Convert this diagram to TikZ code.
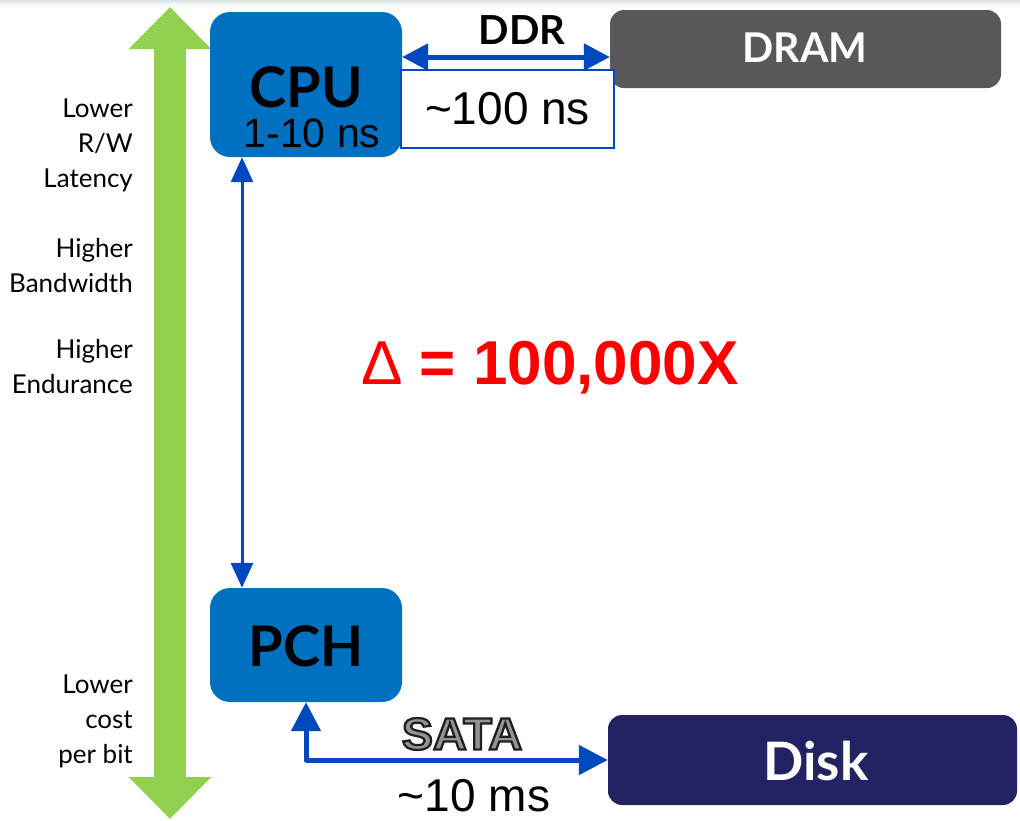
\documentclass[tikz,border=0pt]{standalone}
\usepackage{fontspec}
\setmainfont{Liberation Sans}
\newfontfamily\gill{Lato}
\usetikzlibrary{arrows.meta}

\definecolor{cpublue}{RGB}{0,112,192}
\definecolor{linkblue}{RGB}{0,72,190}
\definecolor{scalegreen}{RGB}{146,208,80}
\definecolor{dramgray}{RGB}{89,89,91}
\definecolor{disknavy}{RGB}{35,35,100}

% outlined letters: fill, then stroke in dark gray
\newcommand\outlined[1]{\special{pdf:literal direct 0.12 G 2.2 w 2 Tr}#1\special{pdf:literal direct 0 Tr}}

\begin{document}
\begin{tikzpicture}[x=1pt,y=-1pt,
	chip/.style={fill=cpublue,rounded corners=20pt,minimum width=192pt,inner sep=0pt},
	mem/.style={rounded corners=14pt,inner sep=0pt},
	hd/.style={font=\gill\bfseries\fontsize{56}{60}\selectfont},
	memlbl/.style={font=\gill\bfseries\fontsize{#1}{#1}\selectfont,text=white},
	side/.style={anchor=east,align=right,inner sep=0pt,font=\gill\fontsize{26}{35}\selectfont},
	big/.style={font=\fontsize{46}{48}\selectfont},
	link/.style={draw=linkblue,line width=5pt,line join=round},
	both/.style={arrows={Triangle[length=#1,width=#1]-Triangle[length=#1,width=#1]}},
	sata/.style={font=\bfseries\fontsize{45}{46}\selectfont,xscale=1.04}]
	\useasboundingbox (0,0) rectangle (1020,820);
	\shade[top color=cyan!15!gray!25,bottom color=white] (0,0) rectangle (1020,6);
	
	% scale on the left
	\coordinate (top) at (170,7);
	\coordinate (bot) at (170,819);
	\draw[scalegreen,line width=32pt,arrows={Triangle[length=42pt,width=80pt]-Triangle[length=42pt,width=80pt]}] (top) -- (bot);
	
	\node[side] (rw) at (133,145) {Lower\\R/W\\Latency};
	\node[side] (bw) at (133,265.5) {Higher\\Bandwidth};
	\node[side] (endur) at (133,367) {Higher\\Endurance};
	\node[side] (cost) at (133,721) {Lower\\cost\\per bit};
	
	% boxes
	\node[chip,minimum height=145pt] (cpu) at (306,84.5) {};
	\node[chip,minimum height=114pt] (pch) at (306,645) {};
	\node[mem,fill=dramgray,minimum width=391pt,minimum height=78pt] (dram) at (805.5,49) {};
	\node[mem,fill=disknavy,minimum width=409pt,minimum height=90pt] (disk) at (812.5,760) {};
	\node[draw=linkblue,line width=1.2pt,fill=white,minimum width=213pt,minimum height=78pt,inner sep=0pt] (lat) at (507.5,109) {};
	
	\node[hd] (cpulbl) at (306,87) {CPU};
	\node[font=\fontsize{41}{44}\selectfont] (cputime) at (312,133) {1-10 ns};
	\node[hd] (pchlbl) at (306,646) {PCH};
	\node[memlbl=41] (dramlbl) at (805,48) {DRAM};
	\node[memlbl=53] (disklbl) at (816,761) {Disk};
	\node[big] (ddrtime) at (lat) {\textasciitilde100 ns};
	\node[big] (satatime) at (474,796) {\textasciitilde10 ms};
	\node[font=\gill\bfseries\fontsize{40}{44}\selectfont] (ddrlbl) at (522,30) {DDR};
	\node[text=red,font=\bfseries\fontsize{62}{66}\selectfont] (delta) at (550,368) {{\mdseries\symbol{"0394}} = 100,000X};
	
	% links
	\coordinate (ddr) at (500,57);
	\draw[link,draw=black,opacity=.25,shift={(2,3)},both=26pt] (cpu.east |- ddr) -- (dram.west |- ddr);
	\draw[link,both=26pt] (cpu.east |- ddr) -- (dram.west |- ddr);
	\draw[link,line width=3pt,arrows={Triangle[length=25pt,width=22pt]-Triangle[length=25pt,width=22pt]}] ([xshift=-64pt]cpu.south) -- ([xshift=-64pt]pch.north);
	\draw[link,both=29pt] (pch.south) |- (disk.west);
	
	\node[sata,text=black!42] (satalbl) at (462,734) {\outlined{SATA}};
\end{tikzpicture}
\end{document}
